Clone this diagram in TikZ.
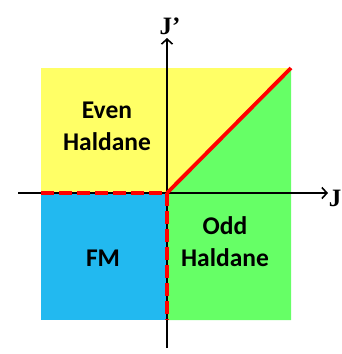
\documentclass[tikz,border=0pt]{standalone}
\usepackage{fontspec}
\setmainfont{Liberation Serif}
\newfontfamily\lblfont{Carlito}
\usetikzlibrary{arrows.meta}
\definecolor{yel}{RGB}{255,255,102}
\definecolor{grn}{RGB}{102,255,102}
\definecolor{blu}{RGB}{34,185,240}
\definecolor{redl}{RGB}{255,0,0}
\tikzset{
  region/.style={font=\lblfont\bfseries\fontsize{25.5}{32}\selectfont, align=center},
  axis/.style={line width=1.6pt, -{Straight Barb[length=5pt,width=11pt,line width=1.6pt]}},
  axlabel/.style={font=\bfseries\fontsize{25}{28}\selectfont},
  border/.style={redl, line width=3.8pt},
  dashborder/.style={redl, line width=3.8pt, dash pattern=on 13pt off 5pt}
}
\begin{document}
\begin{tikzpicture}[x=1pt,y=-1pt]
\useasboundingbox (0,0) rectangle (342,354);
\coordinate (O) at (167,193);
\coordinate (TL) at (41,68);
\coordinate (TR) at (291,68);
\coordinate (BR) at (291,320);
\coordinate (BL) at (41,320);
\coordinate (Otop) at (167,68);
\coordinate (Obot) at (167,320);
\coordinate (Oleft) at (41,193);
\coordinate (Oright) at (291,193);
% regions
\fill[yel] (TL) rectangle (O);
\fill[yel] (O) -- (Otop) -- (TR) -- cycle;
\fill[grn] (O) -- (TR) -- (BR) -- (Obot) -- cycle;
\fill[blu] (Oleft) rectangle (Obot);
% axes
\coordinate (xs) at (18,193);
\coordinate (xe) at (328,193);
\coordinate (ys) at (167,348);
\coordinate (ye) at (167,38);
\draw[axis] (xs) -- (xe);
\draw[axis] (ys) -- (ye);
\node[axlabel, anchor=east, inner sep=0pt] (jl) at (341.5,198) {J};
\node[axlabel, inner sep=0pt] (jpl) at (170,26) {J’};
% boundaries
\draw[border] (O) -- (TR);
\draw[dashborder] (Oleft) -- (O) -- (Obot);
% labels
\node[region] (even) at (107,126) {Even\\Haldane};
\node[region] (odd) at (225,242) {Odd\\Haldane};
\node[region] (fm) at (103,258) {FM};
\end{tikzpicture}
\end{document}
